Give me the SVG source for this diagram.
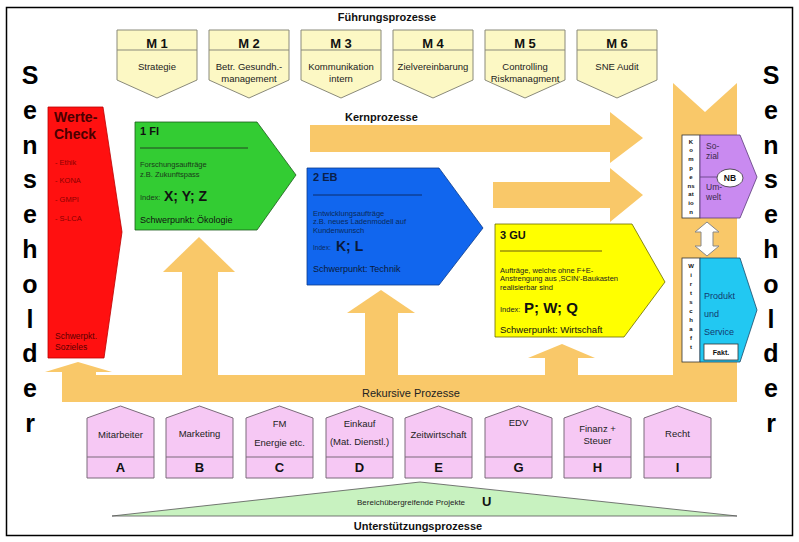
<svg xmlns="http://www.w3.org/2000/svg" width="799" height="542" viewBox="0 0 799 542">
<style>
text{font-family:"Liberation Sans",Arial,sans-serif;}
.b{font-weight:bold;}
.orange{fill:#F9C869;stroke:none;}
.mbox{fill:#FCF8C4;stroke:#8a8a7a;stroke-width:1;}
.sup{fill:#F6C8F4;stroke:#7a6a7a;stroke-width:1;}
.sen{font-size:25px;font-weight:bold;text-anchor:middle;fill:#000;}
.mt{font-size:13px;font-weight:bold;text-anchor:middle;fill:#111;}
.ms{font-size:9.5px;text-anchor:middle;fill:#222;}
.st{font-size:9.5px;text-anchor:middle;fill:#222;}
.sl{font-size:13px;font-weight:bold;text-anchor:middle;fill:#111;}
.sm{font-size:7.5px;}
.vk{font-size:6px;font-weight:bold;text-anchor:middle;fill:#111;}
</style>
<rect x="6.5" y="7.5" width="786" height="528" fill="#fff" stroke="#000" stroke-width="1.5"/>

<text x="387" y="21" class="b" font-size="11" text-anchor="middle" fill="#111">Führungsprozesse</text>
<text x="345" y="121" class="b" font-size="11" fill="#111">Kernprozesse</text>
<text x="418" y="530" class="b" font-size="11" text-anchor="middle" fill="#111">Unterstützungsprozesse</text>

<!-- Sensholder left/right -->
<g id="sensholder-left">
<text x="30" y="84" class="sen">S</text><text x="30" y="119" class="sen">e</text><text x="30" y="154" class="sen">n</text><text x="30" y="188" class="sen">s</text><text x="30" y="223" class="sen">e</text><text x="30" y="258" class="sen">h</text><text x="30" y="293" class="sen">o</text><text x="30" y="328" class="sen">l</text><text x="30" y="362" class="sen">d</text><text x="30" y="397" class="sen">e</text><text x="30" y="432" class="sen">r</text>
</g>
<g id="sensholder-right">
<text x="771" y="84" class="sen">S</text><text x="771" y="119" class="sen">e</text><text x="771" y="154" class="sen">n</text><text x="771" y="188" class="sen">s</text><text x="771" y="223" class="sen">e</text><text x="771" y="258" class="sen">h</text><text x="771" y="293" class="sen">o</text><text x="771" y="328" class="sen">l</text><text x="771" y="362" class="sen">d</text><text x="771" y="397" class="sen">e</text><text x="771" y="432" class="sen">r</text>
</g>

<!-- Management boxes -->
<g id="m1"><polygon class="mbox" points="117,30 197,30 197,80 157,98 117,80"/><line x1="117" y1="50" x2="197" y2="50" stroke="#8a8a7a"/><text x="157" y="48" class="mt">M 1</text><text x="157" y="70" class="ms">Strategie</text></g>
<g id="m2"><polygon class="mbox" points="209,30 289,30 289,80 249,98 209,80"/><line x1="209" y1="50" x2="289" y2="50" stroke="#8a8a7a"/><text x="249" y="48" class="mt">M 2</text><text x="249" y="70" class="ms">Betr. Gesundh.-</text><text x="249" y="82" class="ms">management</text></g>
<g id="m3"><polygon class="mbox" points="301,30 381,30 381,80 341,98 301,80"/><line x1="301" y1="50" x2="381" y2="50" stroke="#8a8a7a"/><text x="341" y="48" class="mt">M 3</text><text x="341" y="70" class="ms">Kommunikation</text><text x="341" y="82" class="ms">intern</text></g>
<g id="m4"><polygon class="mbox" points="393,30 473,30 473,80 433,98 393,80"/><line x1="393" y1="50" x2="473" y2="50" stroke="#8a8a7a"/><text x="433" y="48" class="mt">M 4</text><text x="433" y="70" class="ms">Zielvereinbarung</text></g>
<g id="m5"><polygon class="mbox" points="485,30 565,30 565,80 525,98 485,80"/><line x1="485" y1="50" x2="565" y2="50" stroke="#8a8a7a"/><text x="525" y="48" class="mt">M 5</text><text x="525" y="70" class="ms">Controlling</text><text x="525" y="82" class="ms">Riskmanagment</text></g>
<g id="m6"><polygon class="mbox" points="577,30 657,30 657,80 617,98 577,80"/><line x1="577" y1="50" x2="657" y2="50" stroke="#8a8a7a"/><text x="617" y="48" class="mt">M 6</text><text x="617" y="70" class="ms">SNE Audit</text></g>

<!-- connectors: orange process arrows -->
<g id="connectors">
<polygon class="orange" points="310,125 610,125 610,112 643,138 610,163 610,152 310,152"/>
<polygon class="orange" points="493,182 610,182 610,168 643,195 610,222 610,208 493,208"/>
<polygon class="orange" points="673,83 705,112 737,83 737,402 673,402"/>
<rect class="orange" x="62" y="375" width="675" height="27"/>
<rect class="orange" x="62" y="370" width="34" height="8"/>
<polygon class="orange" points="45,372 78,362 112,372"/>
<rect class="orange" x="182" y="270" width="36" height="108"/>
<polygon class="orange" points="163,272 199,237 235,272"/>
<rect class="orange" x="365" y="311" width="33" height="67"/>
<polygon class="orange" points="347,313 381,290 415,313"/>
<rect class="orange" x="545" y="356" width="33" height="22"/>
<polygon class="orange" points="528,358 562,344 595,358"/>
<polygon points="707,222 719,232 713,232 713,246 719,246 707,256 695,246 701,246 701,232 695,232" fill="#fff" stroke="#888" stroke-width="1"/>
</g>
<text x="362" y="397" font-size="11" fill="#222">Rekursive Prozesse</text>

<!-- Werte-Check -->
<g id="werte-check">
<polygon points="48,107 103,107 122,232 104,358 48,358" fill="#FF1010" stroke="#b00" stroke-width="0.8"/>
<text x="54" y="122" class="b" font-size="14" fill="#4a0000">Werte-</text>
<text x="54" y="139" class="b" font-size="14" fill="#4a0000">Check</text>
<text x="55" y="165" class="sm" fill="#8a0000">- Ethik</text>
<text x="55" y="183" class="sm" fill="#8a0000">- KONA</text>
<text x="55" y="202" class="sm" fill="#8a0000">- GMPI</text>
<text x="55" y="221" class="sm" fill="#8a0000">- S-LCA</text>
<text x="55" y="339" font-size="8.5" fill="#5a0000">Schwerpkt.</text>
<text x="55" y="350" font-size="8.5" fill="#5a0000">Sozieles</text>
</g>

<!-- 1 FI -->
<g id="fi">
<polygon points="135,122 257,122 296,175 257,230 135,230" fill="#33CC33" stroke="#1a5a1a" stroke-width="0.8"/>
<text x="140" y="135" class="b" font-size="11" fill="#111">1 FI</text>
<line x1="140" y1="148" x2="248" y2="148" stroke="#222" stroke-width="0.8"/>
<text x="140" y="167" class="sm" fill="#1a3a1a">Forschungsaufträge</text>
<text x="140" y="177" class="sm" fill="#1a3a1a">z.B. Zukunftspass</text>
<text x="140" y="200" class="sm" fill="#1a3a1a">Index:</text>
<text x="164" y="201" class="b" font-size="14" fill="#111">X; Y; Z</text>
<text x="140" y="223" font-size="9" fill="#111">Schwerpunkt: Ökologie</text>
</g>

<!-- 2 EB -->
<g id="eb">
<polygon points="307,168 439,168 483,228 439,285 307,285" fill="#1166EE" stroke="#0a3a8a" stroke-width="0.8"/>
<text x="313" y="181" class="b" font-size="11" fill="#0a1f4a">2 EB</text>
<line x1="313" y1="195" x2="422" y2="195" stroke="#0a1f4a" stroke-width="0.8"/>
<text x="313" y="216" class="sm" fill="#0a2a5a">Entwicklungsaufträge</text>
<text x="313" y="224" class="sm" fill="#0a2a5a">z.B. neues Ladenmodell auf</text>
<text x="313" y="233" class="sm" fill="#0a2a5a">Kundenwunsch</text>
<text x="313" y="250" font-size="6.5" fill="#0a2a5a">Index:</text>
<text x="336" y="251" class="b" font-size="14" fill="#0a1a3a">K; L</text>
<text x="313" y="272" font-size="9" fill="#0a1a3a">Schwerpunkt: Technik</text>
</g>

<!-- 3 GU -->
<g id="gu">
<polygon points="495,224 632,224 665,282 624,337 495,337" fill="#FFFF00" stroke="#6a6a00" stroke-width="0.8"/>
<text x="500" y="239" class="b" font-size="11" fill="#111">3 GU</text>
<line x1="500" y1="251" x2="602" y2="251" stroke="#6a5a10" stroke-width="1"/>
<text x="500" y="273" class="sm" fill="#222">Aufträge, welche ohne F+E-</text>
<text x="500" y="281" class="sm" fill="#222">Anstrengung aus ‚SCIN‘-Baukasten</text>
<text x="500" y="290" class="sm" fill="#222">realisierbar sind</text>
<text x="500" y="312" font-size="7.5" fill="#222">Index:</text>
<text x="524" y="313" class="b" font-size="15" fill="#111">P; W; Q</text>
<text x="500" y="333" font-size="9.5" fill="#111">Schwerpunkt: Wirtschaft</text>
</g>

<!-- Kompensation / NB -->
<g id="kompensation">
<rect x="682" y="135" width="18" height="83" fill="#fff" stroke="#333" stroke-width="0.8"/>
<text x="691" y="144" class="vk">K</text><text x="691" y="152" class="vk">o</text><text x="691" y="161" class="vk">m</text><text x="691" y="170" class="vk">p</text><text x="691" y="179" class="vk">e</text><text x="691" y="188" class="vk">ns</text><text x="691" y="196" class="vk">at</text><text x="691" y="205" class="vk">io</text><text x="691" y="214" class="vk">n</text>
</g>
<g id="nachhaltigkeit">
<polygon points="700,135 740,135 757,177 740,218 700,218" fill="#C98AF0" stroke="#5a3a7a" stroke-width="0.8"/>
<line x1="700" y1="177" x2="718" y2="177" stroke="#5a3a7a" stroke-width="0.8"/>
<text x="706" y="149" font-size="8.5" fill="#3a2a4a">So-</text>
<text x="706" y="159" font-size="8.5" fill="#3a2a4a">zial</text>
<text x="706" y="190" font-size="8.5" fill="#3a2a4a">Um-</text>
<text x="706" y="200" font-size="8.5" fill="#3a2a4a">welt</text>
<ellipse cx="730" cy="178" rx="13" ry="9" fill="#fff" stroke="#333" stroke-width="0.8"/>
<text x="730" y="181" class="b" font-size="8.5" text-anchor="middle" fill="#111">NB</text>
</g>

<!-- Wirtschaft / Produkt -->
<g id="wirtschaft">
<rect x="682" y="258" width="18" height="104" fill="#fff" stroke="#333" stroke-width="0.8"/>
<text x="691" y="268" class="vk" font-size="7">W</text><text x="691" y="277" class="vk">i</text><text x="691" y="286" class="vk">r</text><text x="691" y="295" class="vk">t</text><text x="691" y="304" class="vk">s</text><text x="691" y="313" class="vk">c</text><text x="691" y="322" class="vk">h</text><text x="691" y="331" class="vk">a</text><text x="691" y="340" class="vk">f</text><text x="691" y="349" class="vk">t</text>
</g>
<g id="produkt">
<polygon points="700,258 740,258 757,310 740,362 700,362" fill="#22C8F2" stroke="#1a4a6a" stroke-width="0.8"/>
<text x="704" y="299" font-size="9" fill="#123a70">Produkt</text>
<text x="704" y="317" font-size="9" fill="#123a70">und</text>
<text x="704" y="335" font-size="9" fill="#123a70">Service</text>
<rect x="704" y="344" width="34" height="16" fill="#fff" stroke="#333" stroke-width="0.8"/>
<text x="721" y="355" class="b" font-size="7" text-anchor="middle" fill="#111">Fakt.</text>
</g>

<!-- Support boxes -->
<g id="sup-a"><polygon class="sup" points="87,418 120.5,406 154,418 154,478 87,478"/><line x1="87" y1="457" x2="154" y2="457" stroke="#7a6a7a"/><text x="120.5" y="438" class="st">Mitarbeiter</text><text x="120.5" y="472" class="sl">A</text></g>
<g id="sup-b"><polygon class="sup" points="166,418 199.5,406 233,418 233,478 166,478"/><line x1="166" y1="457" x2="233" y2="457" stroke="#7a6a7a"/><text x="199.5" y="437" class="st">Marketing</text><text x="199.5" y="472" class="sl">B</text></g>
<g id="sup-c"><polygon class="sup" points="246,418 279.5,406 313,418 313,478 246,478"/><line x1="246" y1="457" x2="313" y2="457" stroke="#7a6a7a"/><text x="279.5" y="427" class="st">FM</text><text x="279.5" y="446" class="st">Energie etc.</text><text x="279.5" y="472" class="sl">C</text></g>
<g id="sup-d"><polygon class="sup" points="326,418 359.5,406 393,418 393,478 326,478"/><line x1="326" y1="457" x2="393" y2="457" stroke="#7a6a7a"/><text x="359.5" y="427" class="st">Einkauf</text><text x="359.5" y="445" class="st">(Mat. Dienstl.)</text><text x="359.5" y="472" class="sl">D</text></g>
<g id="sup-e"><polygon class="sup" points="405,418 438.5,406 472,418 472,478 405,478"/><line x1="405" y1="457" x2="472" y2="457" stroke="#7a6a7a"/><text x="438.5" y="438" class="st">Zeitwirtschaft</text><text x="438.5" y="472" class="sl">E</text></g>
<g id="sup-g"><polygon class="sup" points="485,418 518.5,406 552,418 552,478 485,478"/><line x1="485" y1="457" x2="552" y2="457" stroke="#7a6a7a"/><text x="518.5" y="426" class="st">EDV</text><text x="518.5" y="472" class="sl">G</text></g>
<g id="sup-h"><polygon class="sup" points="564,418 597.5,406 631,418 631,478 564,478"/><line x1="564" y1="457" x2="631" y2="457" stroke="#7a6a7a"/><text x="597.5" y="432" class="st">Finanz +</text><text x="597.5" y="444" class="st">Steuer</text><text x="597.5" y="472" class="sl">H</text></g>
<g id="sup-i"><polygon class="sup" points="644,418 677.5,406 711,418 711,478 644,478"/><line x1="644" y1="457" x2="711" y2="457" stroke="#7a6a7a"/><text x="677.5" y="437" class="st">Recht</text><text x="677.5" y="472" class="sl">I</text></g>

<!-- Cross-area projects -->
<g id="projekte">
<polygon points="112,516 420,482 737,516" fill="#C8F2C0" stroke="#555" stroke-width="0.8"/>
<text x="357" y="505" font-size="8" fill="#222">Bereichübergreifende Projekte</text>
<text x="482" y="506" class="b" font-size="13" fill="#111">U</text>
</g>
</svg>
